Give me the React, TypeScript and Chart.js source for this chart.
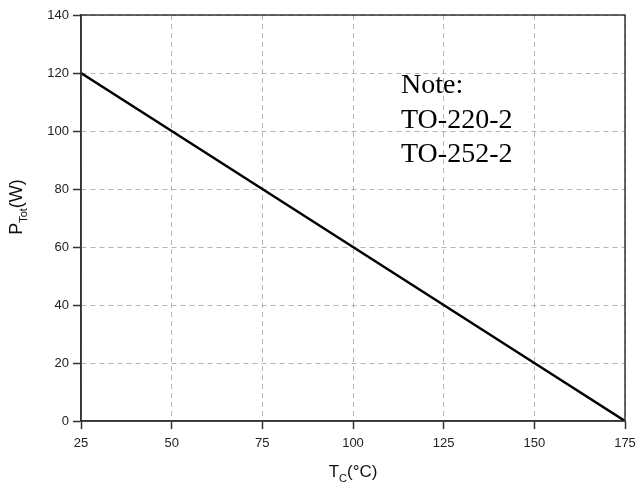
import { useEffect, useRef } from "react";
import { Chart, registerables } from "chart.js";

Chart.register(...registerables);

const temperatures = [25, 50, 75, 100, 125, 150, 175];
const powerValues = [120, 100, 80, 60, 40, 20, 0];
const xTicks = [25, 50, 75, 100, 125, 150, 175];
const yTicks = [0, 20, 40, 60, 80, 100, 120, 140];
const noteLines = ["Note:", "TO-220-2", "TO-252-2"];

const SANS = "Arial, 'Liberation Sans', Helvetica, sans-serif";
const SERIF = "'Times New Roman', 'Liberation Serif', serif";

function drawRich(ctx: CanvasRenderingContext2D, parts: { t: string; size: number; dy: number }[], cx: number, baseline: number) {
  let total = 0;
  for (const p of parts) {
    ctx.font = `${p.size}px ${SANS}`;
    total += ctx.measureText(p.t).width;
  }
  let x = cx - total / 2;
  for (const p of parts) {
    ctx.font = `${p.size}px ${SANS}`;
    ctx.fillText(p.t, x, baseline + p.dy);
    x += ctx.measureText(p.t).width;
  }
}

const framePlugin = {
  id: "frameAndText",
  afterDatasetsDraw(chart: any) {
    const { ctx, chartArea } = chart;
    ctx.save();
    ctx.strokeStyle = "#333";
    ctx.lineWidth = 1.5;
    ctx.setLineDash([]);
    ctx.strokeRect(chartArea.left, chartArea.top, chartArea.right - chartArea.left, chartArea.bottom - chartArea.top);
    ctx.fillStyle = "#000";
    ctx.textAlign = "left";
    ctx.textBaseline = "alphabetic";
    ctx.font = `28px ${SERIF}`;
    const baselines = [93, 128, 162];
    noteLines.forEach((l, i) => ctx.fillText(l, 401, baselines[i]));
    ctx.restore();
  },
  afterDraw(chart: any) {
    const { ctx, chartArea } = chart;
    ctx.save();
    ctx.fillStyle = "#111";
    ctx.textAlign = "left";
    ctx.textBaseline = "alphabetic";
    drawRich(
      ctx,
      [
        { t: "T", size: 17, dy: 0 },
        { t: "C", size: 11, dy: 5 },
        { t: "(°C)", size: 17, dy: 0 },
      ],
      (chartArea.left + chartArea.right) / 2,
      477
    );
    ctx.translate(22, 207);
    ctx.rotate(-Math.PI / 2);
    drawRich(
      ctx,
      [
        { t: "P", size: 18, dy: 0 },
        { t: "Tot", size: 11, dy: 5 },
        { t: "(W)", size: 18, dy: 0 },
      ],
      0,
      0
    );
    ctx.restore();
  },
};

export default function App() {
  const ref = useRef<HTMLCanvasElement>(null);
  useEffect(() => {
    if (!ref.current) return;
    const chart = new Chart(ref.current, {
      type: "line",
      data: {
        datasets: [
          {
            data: temperatures.map((t, i) => ({ x: t, y: powerValues[i] })),
            borderColor: "#000",
            borderWidth: 2.5,
            pointRadius: 0,
            tension: 0,
            fill: false,
          },
        ],
      },
      options: {
        animation: false,
        responsive: true,
        maintainAspectRatio: false,
        layout: { padding: { top: 15, right: 11, left: 0, bottom: 0 } },
        plugins: { legend: { display: false }, tooltip: { enabled: false } },
        scales: {
          x: {
            type: "linear",
            min: 25,
            max: 175,
            afterBuildTicks: (s: any) => {
              s.ticks = xTicks.map((v) => ({ value: v }));
            },
            afterFit: (s: any) => {
              s.height = 72;
              s.paddingLeft = 0;
              s.paddingRight = 0;
            },
            ticks: { color: "#222", font: { family: SANS, size: 13 }, padding: 7, maxRotation: 0 },
            grid: {
              color: "#b5b5b5",
              lineWidth: 1,
              tickLength: 8,
              tickColor: "#333",
              tickWidth: 1.5,
              tickBorderDash: [],
            },
            border: { display: true, color: "#333", width: 1.5, dash: [5, 4] },
          },
          y: {
            type: "linear",
            min: 0,
            max: 140,
            afterBuildTicks: (s: any) => {
              s.ticks = yTicks.map((v) => ({ value: v }));
            },
            afterFit: (s: any) => {
              s.width = 81;
              s.paddingTop = 0;
              s.paddingBottom = 0;
            },
            ticks: { color: "#222", font: { family: SANS, size: 13 }, padding: 4 },
            grid: {
              color: "#b5b5b5",
              lineWidth: 1,
              tickLength: 8,
              tickColor: "#333",
              tickWidth: 1.5,
              tickBorderDash: [],
            },
            border: { display: true, color: "#333", width: 1.5, dash: [5, 4] },
          },
        },
      },
      plugins: [framePlugin],
    });
    return () => chart.destroy();
  }, []);
  return (
    <div style={{ position: "absolute", left: 0, top: 0, width: 636, height: 493, background: "#fff" }}>
      <canvas ref={ref} />
    </div>
  );
}
